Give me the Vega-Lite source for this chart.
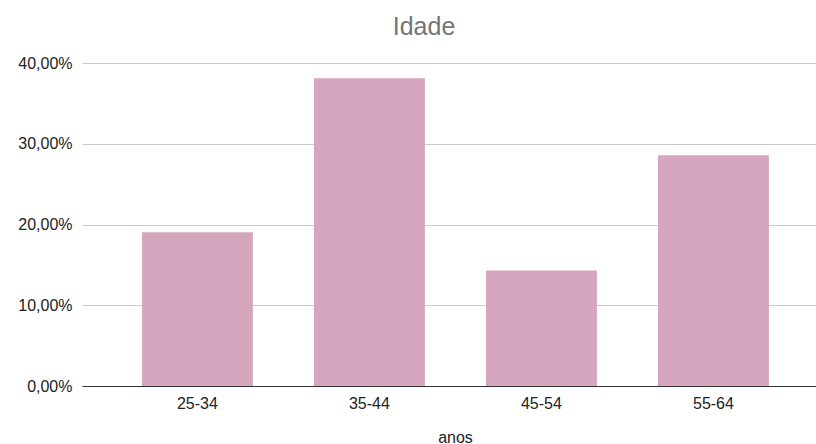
{
  "$schema": "https://vega.github.io/schema/vega-lite/v6.json",
  "width": 734,
  "height": 323,
  "autosize": {"type": "none"},
  "padding": {"left": 82, "top": 63, "right": 0, "bottom": 58},
  "background": "white",
  "config": {
    "locale": {"number": {"decimal": ",", "thousands": ".", "grouping": [3], "currency": ["", " €"]}},
    "font": "Liberation Sans",
    "view": {"stroke": null}
  },
  "title": {
    "text": "Idade",
    "fontSize": 25,
    "fontWeight": "normal",
    "color": "#757575",
    "font": "Liberation Sans",
    "anchor": "middle",
    "dx": -25,
    "offset": 15
  },
  "data": {
    "values": [
      {"faixa": "25-34", "pct": 0.1905},
      {"faixa": "35-44", "pct": 0.381},
      {"faixa": "45-54", "pct": 0.1429},
      {"faixa": "55-64", "pct": 0.2857}
    ]
  },
  "mark": {"type": "bar", "color": "#d5a6bd"},
  "encoding": {
    "x": {
      "field": "faixa",
      "type": "nominal",
      "sort": null,
      "scale": {"paddingInner": 0.355, "paddingOuter": 0.311, "align": 0.56},
      "axis": {
        "title": "anos",
        "titleFontSize": 16,
        "titleFontWeight": "normal",
        "titleColor": "#222",
        "titlePadding": 18,
        "titleX": 373,
        "labelAngle": 0,
        "labelFontSize": 16,
        "labelColor": "#222",
        "labelPadding": 9,
        "ticks": false,
        "domainColor": "#333",
        "domainWidth": 1.2
      }
    },
    "y": {
      "field": "pct",
      "type": "quantitative",
      "scale": {"domain": [0, 0.4], "nice": false},
      "axis": {
        "title": null,
        "format": ".2%",
        "values": [0, 0.1, 0.2, 0.3, 0.4],
        "labelFontSize": 16,
        "labelColor": "#222",
        "labelPadding": 10,
        "ticks": false,
        "domain": false,
        "gridColor": "#cccccc",
        "gridWidth": 1
      }
    }
  }
}
